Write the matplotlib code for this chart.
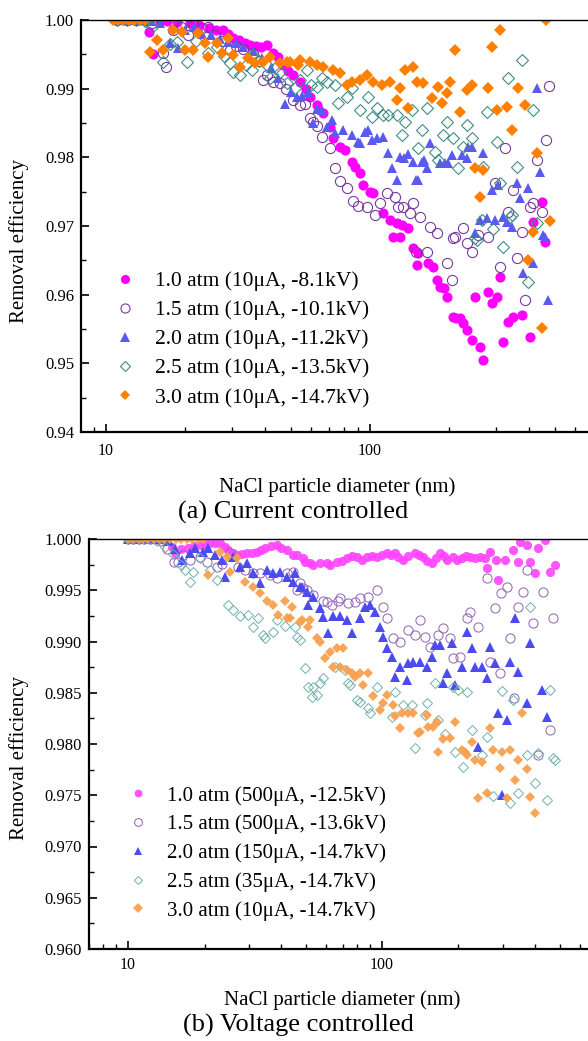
import matplotlib
matplotlib.use('Agg')
import matplotlib.pyplot as plt
from matplotlib.ticker import FixedLocator, LogLocator, NullFormatter, FuncFormatter, MultipleLocator

plt.rcParams['font.family'] = ['Liberation Serif', 'DejaVu Serif']

# ---------------- data: (a) current controlled ----------------
a_labels = ['1.0 atm (10\u03bcA, -8.1kV)', '1.5 atm (10\u03bcA, -10.1kV)', '2.0 atm (10\u03bcA, -11.2kV)',
            '2.5 atm (10\u03bcA, -13.5kV)', '3.0 atm (10\u03bcA, -14.7kV)']

a_10 = [(11,1.0),(11.6,1.0),(12.2,1.0),(12.8,1.0),(13.5,1.0),(14.6,0.9982),(15.1,0.9950),(16,0.9998),(17,0.9999),
        (18.5,0.9997),(20.8,0.9996),(22.5,0.9992),(24.5,0.9989),(26,0.9986),(27.7,0.9985),(29,0.9980),(30.3,0.9974),
        (32,0.9971),(33.5,0.9967),(35.1,0.9964),(37,0.9962),(38.5,0.9961),(40.7,0.9964),(42.9,0.9952),(45,0.9946),
        (46.8,0.9935),(49,0.9926),(51.1,0.9920),(54.3,0.9910),(57,0.9900),(59.3,0.9888),(63,0.9876),(66.4,0.9865),
        (70.5,0.9844),(72.4,0.9828),(76.9,0.9815),(80.4,0.9811),(85.5,0.9793),(87.7,0.9786),(91.6,0.9777),(94,0.9760),
        (100,0.9750),(102.6,0.9748),(112,0.9719),(119,0.9709),(122,0.9684),(126.5,0.9705),(130,0.9684),(132,0.9702),
        (139,0.9697),(145.5,0.9668),(150.6,0.9643),(152,0.9661),(166,0.9646),(173,0.9640),(179,0.9622),(184,0.9611),
        (190,0.9609),(196,0.9597),(206,0.9568),(212,0.9566),(219,0.9566),(225,0.9559),(233,0.9549),(244,0.9534),
        (250,0.9597),(261,0.9524),(268,0.9505),(280,0.9604),(290,0.9588),(303,0.9597),(311,0.9626),(319,0.9531),
        (333,0.9560),(348,0.9568),(377,0.9571),(404,0.9539),(414,0.9706),(449,0.9735),(460,0.9677)]

a_15 = [(11,1.0),(12,1.0),(13,1.0),(14,1.0),(15,0.9996),(16.5,0.9952),(16.9,0.9932),(18,0.9985),(19.2,0.9990),
        (20.4,0.9978),(21.4,0.9993),(23,0.9988),(24.4,0.9990),(25.9,0.9978),(27.5,0.9970),(29.5,0.9956),(31,0.9962),
        (33,0.9958),(36,0.9952),(38,0.9940),(39.3,0.9913),(40.7,0.9920),(42.9,0.9910),(45.6,0.9908),(48,0.9900),
        (51,0.9884),(54.3,0.9876),(56.7,0.9878),(59.3,0.9857),(61,0.9852),(63,0.9846),(66,0.9830),(70.5,0.9814),
        (73.7,0.9784),(76.9,0.9766),(81.8,0.9755),(86.2,0.9736),(90,0.9729),(97.4,0.9727),(104.5,0.9716),(109,0.9733),
        (116,0.9748),(124.4,0.9742),(128,0.9728),(133,0.9728),(141.6,0.9719),(145.5,0.9734),(150,0.9662),(154.6,0.9713),
        (164,0.9662),(168.7,0.9699),(179,0.9690),(196,0.9646),(204,0.9622),(206,0.9683),(210,0.9684),(225,0.9697),
        (233,0.9675),(243,0.9662),(257,0.9687),(280,0.9684),(297,0.9763),(311,0.9640),(324,0.9814),(333,0.9720),
        (348,0.9752),(360,0.9654),(377,0.9691),(386,0.9592),(404,0.9728),(414,0.9734),(428,0.9796),(449,0.9720),
        (464,0.9825),(476,0.9904)]

a_20 = [(11,1.0),(12,1.0),(13,1.0),(14,1.0),(15,0.9998),(16,0.9995),(17.5,0.9967),(18.8,0.9959),(20,0.9985),
        (21.5,0.9990),(23,0.9980),(25,0.9978),(27,0.9972),(29,0.9968),(31,0.9966),(33,0.9960),(36,0.9955),(39,0.9945),
        (42,0.9930),(45,0.9915),(47.7,0.9877),(50,0.9895),(52.9,0.9888),(55.5,0.9890),(58.2,0.9895),(60.8,0.9850),
        (63,0.9870),(65.8,0.9869),(68.8,0.9844),(71.8,0.9854),(74,0.9836),(79,0.9840),(85.5,0.9833),(90,0.9822),
        (91.6,0.9821),(95.7,0.9837),(98,0.9840),(102,0.9825),(106,0.9828),(112,0.9830),(117,0.9807),(121,0.9785),
        (126.5,0.9767),(130,0.9801),(135,0.9799),(139,0.9805),(145.5,0.9793),(150,0.9767),(152,0.9767),(157,0.9793),
        (160,0.9796),(164,0.9785),(169,0.9821),(184,0.9792),(192,0.9792),(197,0.9792),(204,0.9804),(223,0.9804),
        (233,0.9799),(235,0.9815),(243,0.9815),(250,0.9690),(261,0.9709),(268,0.9807),(277,0.9712),(290,0.9752),
        (297,0.9709),(306,0.9760),(319,0.9713),(330,0.9706),(345,0.9698),(360,0.9763),(370,0.9741),(380,0.9632),
        (397,0.9755),(414,0.9646),(428,0.9901),(440,0.9779),(452,0.9687),(460,0.9684),(472,0.9592)]

a_25 = [(11,1.0),(12,1.0),(13,1.0),(14,0.9998),(15,0.9990),(16.5,0.9939),(17.5,0.9965),(18.6,0.9968),(20.3,0.9939),
        (22,0.9970),(24.4,0.9952),(26.3,0.9961),(28,0.9948),(29.5,0.9937),(30.3,0.9924),(32.2,0.9920),(34,0.9935),
        (35.7,0.9927),(36,0.9949),(38,0.9940),(40.7,0.9935),(41.8,0.9916),(43.5,0.9930),(45.6,0.9924),(48.5,0.9908),
        (52,0.9901),(54.5,0.9912),(57.7,0.9927),(60,0.9905),(63,0.9902),(66,0.9915),(68.8,0.9910),(73.7,0.9905),
        (75.7,0.9879),(81.8,0.9888),(85.5,0.9901),(91.6,0.9869),(98.3,0.9888),(101.7,0.9859),(106,0.9872),(112,0.9862),
        (117,0.9862),(126.5,0.9862),(132,0.9833),(135.7,0.9852),(144,0.9869),(152,0.9814),(157,0.9840),(164,0.9872),
        (176,0.9808),(181,0.9796),(189,0.9833),(196,0.9852),(206,0.9828),(215,0.9785),(225,0.9815),(233,0.9847),
        (243,0.9828),(250,0.9683),(254,0.9680),(265,0.9709),(268,0.9786),(277,0.9866),(292,0.9695),(303,0.9822),
        (311,0.9763),(319,0.9670),(333,0.9916),(339,0.9713),(345,0.9716),(360,0.9786),(377,0.9942),(397,0.9619),
        (414,0.9869),(428,0.9704)]

a_30 = [(10.6,1.0),(11.1,1.0),(11.6,1.0),(12.2,1.0),(12.8,1.0),(13.4,1.0),(14.0,1.0),(14.7,0.9953),(15.6,0.9971),
        (16.5,0.9956),(18,0.9985),(19.4,0.9983),(19.9,0.9956),(21.3,0.9956),(22.3,0.9981),(23.7,0.9967),(24.4,0.9946),
        (26.3,0.9967),(27.5,0.9952),(29,0.9974),(30.3,0.9949),(32.2,0.9932),(34.5,0.9945),(36.6,0.9937),(39.3,0.9939),
        (41.8,0.9946),(45.6,0.9937),(48.5,0.9939),(49.8,0.9939),(53.4,0.9935),(54.3,0.9942),(59.3,0.9939),(63,0.9935),
        (66.4,0.9932),(72.4,0.9927),(76.9,0.9923),(81.8,0.9905),(85.5,0.9910),(91.6,0.9913),(97.4,0.9920),(102.6,0.9910),
        (111,0.9905),(119,0.9910),(126.5,0.9884),(130,0.9901),(135.7,0.9927),(139,0.9872),(145.5,0.9932),(150.6,0.9910),
        (159,0.9908),(172,0.9886),(181,0.9902),(187,0.9879),(196,0.9894),(201,0.9910),(210,0.9956),(219,0.9866),
        (233,0.9898),(243,0.9905),(250,0.9785),(261,0.9742),(268,0.9781),(280,0.9901),(290,0.9961),(303,0.9869),
        (311,0.9985),(330,0.9874),(345,0.9840),(364,0.9901),(386,0.9876),(397,0.9651),(414,0.9691),(428,0.9807),
        (449,0.9552),(464,1.0),(480,0.9708)]

# ---------------- data: (b) voltage controlled ----------------
b_labels = ['1.0 atm (500\u03bcA, -12.5kV)', '1.5 atm (500\u03bcA, -13.6kV)', '2.0 atm (150\u03bcA, -14.7kV)',
            '2.5 atm (35\u03bcA, -14.7kV)', '3.0 atm (10\u03bcA, -14.7kV)']

b_10 = [(10,1.0),(10.5,1.0),(11,1.0),(11.5,1.0),(12,1.0),(12.5,1.0),(13.2,1.0),(14,0.9999),(14.9,0.9992),(15.3,0.9986),
        (16.2,0.9990),(17.2,0.9991),(18.2,0.9993),(19.2,0.9994),(20,0.9995),(21,0.9996),(22,0.9996),(23,0.9996),
        (24,0.9992),(24.8,0.9989),(25.8,0.9986),(26.8,0.9984),(28,0.9985),(29.4,0.9986),(30.8,0.9986),(32.2,0.9987),
        (33.5,0.9989),(34.6,0.9991),(36.5,0.9993),(38.6,0.9994),(40,0.9991),(42.3,0.9989),(44.6,0.9984),(46.2,0.9984),
        (48.9,0.9981),(49.7,0.9978),(52,0.9977),(53.5,0.9975),(57,0.9977),(60.7,0.9977),(62.4,0.9975),(66.5,0.9978),
        (69.5,0.9979),(72.9,0.9981),(76,0.9983),(79.7,0.9982),(83.5,0.9980),(87.3,0.9982),(91.5,0.9983),(95.6,0.9982),
        (100,0.9984),(104.6,0.9986),(108,0.9984),(112.5,0.9986),(116,0.9982),(121,0.9980),(127,0.9983),(134.8,0.9986),
        (140,0.9984),(145,0.9982),(151,0.9979),(157.5,0.9977),(163,0.9981),(169,0.9986),(175,0.9983),(180,0.9980),
        (190,0.9982),(198,0.9980),(206,0.9981),(214,0.9983),(222,0.9982),(232,0.9981),(243,0.9982),(254,0.9981),
        (259,0.9972),(266,0.9987),(282,0.9980),(286,0.9960),(305,0.9980),(328,0.9989),(343,0.9978),(350,0.9997),
        (373,0.9994),(384,0.9978),(400,0.9967),(411,0.9991),(438,0.9999),(458,0.9968),(480,0.9975)]

b_15 = [(10,1.0),(10.5,1.0),(11,1.0),(11.6,1.0),(12.2,1.0),(12.8,1.0),(13.5,0.9998),(14.2,0.9990),(15.1,0.9978),
        (15.7,0.9978),(16.5,0.9984),(17.5,0.9980),(19.2,0.9982),(20.5,0.9978),(22.4,0.9973),(23.5,0.9976),(25.2,0.9986),
        (27.1,0.9973),(29,0.9970),(31,0.9967),(33.1,0.9967),(36.2,0.9965),(38.5,0.9962),(42.3,0.9967),(44.6,0.9968),
        (46.2,0.9950),(47.6,0.9957),(48.9,0.9952),(50.7,0.9950),(53.5,0.9945),(58.6,0.9940),(60.7,0.9939),(63.5,0.9936),
        (67.1,0.9940),(68.4,0.9942),(73.5,0.9938),(78.3,0.9939),(81.9,0.9942),(88.1,0.9943),(95.6,0.9950),(100.9,0.9934),
        (104.6,0.9923),(110.5,0.9903),(117.7,0.9900),(126.6,0.9911),(134.8,0.9906),(141,0.9921),(147.7,0.9904),
        (154.6,0.9895),(166,0.9906),(174,0.9913),(185,0.9903),(190,0.9884),(203,0.9885),(216,0.9923),(222,0.9929),
        (239,0.9914),(259,0.9962),(266,0.9880),(278,0.9933),(291,0.9869),(295,0.9947),(310,0.9953),(319,0.9903),
        (330,0.9845),(343,0.9934),(359,0.9948),(373,0.9970),(393,0.9918),(411,0.9789),(430,0.9948),(458,0.9814),
        (470,0.9923)]

b_20 = [(10,1.0),(10.5,1.0),(11,1.0),(11.6,1.0),(12.2,1.0),(12.8,1.0),(13.5,1.0),(14.5,0.9998),(15.3,0.9990),
        (16.3,0.9980),(17.5,0.9986),(18.4,0.9991),(19.8,0.9987),(20.7,0.9991),(22,0.9984),(23.5,0.9980),(24.1,0.9963),
        (25.9,0.9982),(27.6,0.9973),(29.4,0.9977),(31,0.9967),(33.1,0.9957),(35.2,0.9970),(37.2,0.9967),(39.7,0.9968),
        (42.3,0.9963),(44.6,0.9958),(45.5,0.9967),(47.6,0.9953),(48.4,0.9953),(50.7,0.9948),(51.2,0.9936),(53.5,0.9943),
        (57,0.9933),(58.6,0.9924),(61.3,0.9908),(64.1,0.9925),(68.4,0.9925),(72.9,0.9921),(76.1,0.9908),(81.9,0.9923),
        (85.7,0.9934),(89.7,0.9936),(93.9,0.9929),(98.2,0.9914),(100.9,0.9904),(104.6,0.9894),(109.5,0.9885),
        (112.5,0.9865),(117.7,0.9875),(125.4,0.9862),(126.6,0.9879),(132.4,0.9880),(141,0.9880),(150.3,0.9875),
        (157.5,0.9885),(161.8,0.9897),(169.2,0.9897),(174,0.9860),(180,0.9869),(188,0.9899),(194,0.9858),(206,0.9875),
        (216,0.9909),(226,0.9894),(232,0.9875),(239,0.9797),(247,0.9875),(259,0.9864),(266,0.9895),(278,0.9879),
        (286,0.9830),(296,0.9750),(310,0.9823),(319,0.9880),(335,0.9923),(343,0.9870),(373,0.9840),(384,0.9899),
        (426,0.9853),(445,0.9826)]

b_25 = [(10,1.0),(10.5,1.0),(11,1.0),(11.6,1.0),(12.2,1.0),(13,0.9998),(14,0.9992),(15,0.9985),(16.1,0.9975),
        (16.8,0.9970),(17.5,0.9958),(18,0.9968),(19.2,0.9981),(21,0.9970),(22.5,0.9960),(24.8,0.9936),(25.9,0.9931),
        (27.5,0.9925),(29.7,0.9926),(31,0.9914),(32.5,0.9923),(34,0.9906),(34.6,0.9903),(37.2,0.9909),(38.6,0.9921),
        (41.5,0.9915),(45.5,0.9914),(46.2,0.9904),(47.6,0.9901),(49.7,0.9874),(51.2,0.9856),(53,0.9846),(53.5,0.9856),
        (55.5,0.9848),(57,0.9860),(58.6,0.9864),(65,0.9875),(71.6,0.9872),(73.5,0.9860),(74.8,0.9858),(79.7,0.9843),
        (81.9,0.9841),(88.1,0.9835),(89.7,0.9830),(95.6,0.9856),(109.5,0.9826),(112.5,0.9851),(121,0.9838),(131,0.9838),
        (134.8,0.9796),(147.7,0.9828),(150.3,0.9840),(161.8,0.9860),(166,0.9823),(177,0.9810),(190,0.9856),(194,0.9792),
        (199,0.9853),(209,0.9778),(216,0.9851),(226,0.9814),(247,0.9789),(259,0.9807),(274,0.9749),(296,0.9852),
        (319,0.9742),(328,0.9843),(343,0.9752),(373,0.9789),(384,0.9934),(400,0.9762),(411,0.9791),(445,0.9745),
        (458,0.9853),(470,0.9786),(480,0.9784)]

b_30 = [(10,1.0),(10.5,1.0),(11,1.0),(11.5,1.0),(12,1.0),(12.6,1.0),(13.2,1.0),(13.9,1.0),(14.6,1.0),(15.4,1.0),
        (16.2,1.0),(17,1.0),(17.9,1.0),(18.8,1.0),(19.7,1.0),(20.7,0.9965),(23,0.9987),(24.5,0.9982),(25.2,0.9968),
        (26.8,0.9981),(28.9,0.9958),(31,0.9953),(33.1,0.9947),(35.2,0.9940),(37.2,0.9936),(39,0.9926),(41.5,0.9940),
        (42.3,0.9923),(43.4,0.9923),(44.3,0.9934),(47.6,0.9919),(48.4,0.9921),(51.2,0.9914),(52,0.9921),(55.5,0.9903),
        (57,0.9900),(59.6,0.9884),(62.4,0.9890),(64.1,0.9875),(66.5,0.9894),(68.4,0.9875),(70.2,0.9894),(72.9,0.9872),
        (76.1,0.9869),(78.3,0.9865),(81.9,0.9869),(84,0.9858),(88.1,0.9869),(92.2,0.9847),(98.2,0.9833),(100.9,0.9840),
        (104.6,0.9848),(110.5,0.9838),(112.5,0.9827),(117.7,0.9816),(120,0.9830),(126.6,0.9830),(132.4,0.9830),
        (138,0.9811),(141,0.9812),(150.3,0.9828),(151.7,0.9817),(159,0.9817),(164.5,0.9821),(166,0.9792),(174,0.9805),
        (185,0.9806),(194,0.9821),(206,0.9794),(212,0.9792),(216,0.9789),(226,0.9802),(232,0.9784),(239,0.9747),
        (247,0.9782),(259,0.9752),(266,0.9816),(274,0.9794),(291,0.9777),(296,0.9792),(310,0.9747),(319,0.9794),
        (335,0.9765),(343,0.9784),(355,0.9830),(373,0.9776),(384,0.9748),(400,0.9733)]

a_ticks = [0.94, 0.95, 0.96, 0.97, 0.98, 0.99, 1.00]
b_ticks = [0.960, 0.965, 0.970, 0.975, 0.980, 0.985, 0.990, 0.995, 1.000]

# ---------------- styles ----------------
a_styles = [dict(marker='o', ms=7.3, mfc='#FF00FF', mec='#FF00FF', mew=0),
            dict(marker='o', ms=7.3, mfc='none', mec='#7A3A9E', mew=0.8),
            dict(marker='^', ms=7.3, mfc='#5A5AF0', mec='#5A5AF0', mew=0),
            dict(marker='D', ms=5.7, mfc='none', mec='#3D8C84', mew=0.8),
            dict(marker='D', ms=6.1, mfc='#FF8000', mec='#FF8000', mew=0)]
b_styles = [dict(marker='o', ms=6.6, mfc='#FF44FF', mec='#FF44FF', mew=0, alpha=0.9),
            dict(marker='o', ms=6.6, mfc='none', mec='#9060B8', mew=0.7),
            dict(marker='^', ms=6.8, mfc='#4B4BEE', mec='#4B4BEE', mew=0),
            dict(marker='D', ms=5.2, mfc='none', mec='#6FB0AC', mew=0.7),
            dict(marker='D', ms=5.4, mfc='#F7A050', mec='#F7A050', mew=0, alpha=0.95)]

W, H = 588, 1041
fig = plt.figure(figsize=(W / 100, H / 100), dpi=100)


def px_box(left, top, right, bottom):
    return [left / W, 1 - bottom / H, (right - left) / W, (bottom - top) / H]


def style(ax, xlim, ylim, ticks, fmt, minor, xpad):
    ax.set_xscale('log')
    ax.set_xlim(*xlim)
    ax.set_ylim(*ylim)
    ax.spines['right'].set_visible(False)
    ax.spines['left'].set_linewidth(1.6)
    ax.spines['bottom'].set_linewidth(1.6)
    ax.spines['top'].set_linewidth(1.0)
    ax.xaxis.set_major_locator(FixedLocator([10, 100]))
    ax.xaxis.set_major_formatter(FuncFormatter(lambda v, p: '%g' % v))
    ax.xaxis.set_minor_locator(LogLocator(base=10, subs=range(2, 10), numticks=20))
    ax.xaxis.set_minor_formatter(NullFormatter())
    ax.yaxis.set_major_locator(FixedLocator(ticks))
    ax.yaxis.set_major_formatter(FuncFormatter(lambda v, p: fmt % v))
    ax.yaxis.set_minor_locator(MultipleLocator(minor))
    ax.tick_params(which='both', direction='in', top=False, right=False)
    ax.tick_params(which='major', length=5.5, width=1.2, labelsize=12)
    ax.tick_params(which='minor', length=3.5, width=1.0)
    ax.tick_params(axis='x', which='major', pad=xpad, labelsize=11.5)
    ax.tick_params(axis='y', which='major', pad=5)


def draw(ax, series, styles, labels):
    handles = []
    for data, st, lab in zip(series, styles, labels):
        d = [p[0] for p in data]
        e = [p[1] for p in data]
        h, = ax.plot(d, e, linestyle='none', label=lab, **st)
        handles.append(h)
    return handles


# (a)
ax1 = fig.add_axes(px_box(81, 20, 588, 432))
style(ax1, (8.04, 669.6), (0.94, 1.00), a_ticks, '%.2f', 0.005, 8)
h1 = draw(ax1, [a_10, a_15, a_20, a_25, a_30], a_styles, a_labels)
ax1.legend(handles=h1, loc='upper left', bbox_to_anchor=(114 / W, 1 - 271 / H),
           bbox_transform=fig.transFigure, frameon=False, fontsize=15.5, handlelength=1.0,
           handletextpad=0.9, labelspacing=0.42, borderpad=0, borderaxespad=0, numpoints=1,
           markerscale=0.9)

# (b)
ax2 = fig.add_axes(px_box(88.7, 539, 588, 949))
style(ax2, (7.0, 647), (0.96, 1.00), b_ticks, '%.3f', 0.0025, 6)
h2 = draw(ax2, [b_10, b_15, b_20, b_25, b_30], b_styles, b_labels)
ax2.legend(handles=h2, loc='upper left', bbox_to_anchor=(127.5 / W, 1 - 786 / H),
           bbox_transform=fig.transFigure, frameon=False, fontsize=15, handlelength=1.0,
           handletextpad=0.9, labelspacing=0.43, borderpad=0, borderaxespad=0, numpoints=1,
           markerscale=0.85)

# axis labels and captions
fig.text(19 / W, 1 - 241 / H, 'Removal efficiency', rotation=90, ha='center', va='center', fontsize=15)
fig.text(19 / W, 1 - 758 / H, 'Removal efficiency', rotation=90, ha='center', va='center', fontsize=15)
fig.text(337 / W, 1 - 487 / H, 'NaCl particle diameter (nm)', ha='center', va='center', fontsize=15)
fig.text(342 / W, 1 - 1000 / H, 'NaCl particle diameter (nm)', ha='center', va='center', fontsize=15)
fig.text(293 / W, 1 - 512 / H, '(a) Current controlled', ha='center', va='center', fontsize=19)
fig.text(298 / W, 1 - 1025 / H, '(b) Voltage controlled', ha='center', va='center', fontsize=19)

fig.savefig('out.png', dpi=100)
